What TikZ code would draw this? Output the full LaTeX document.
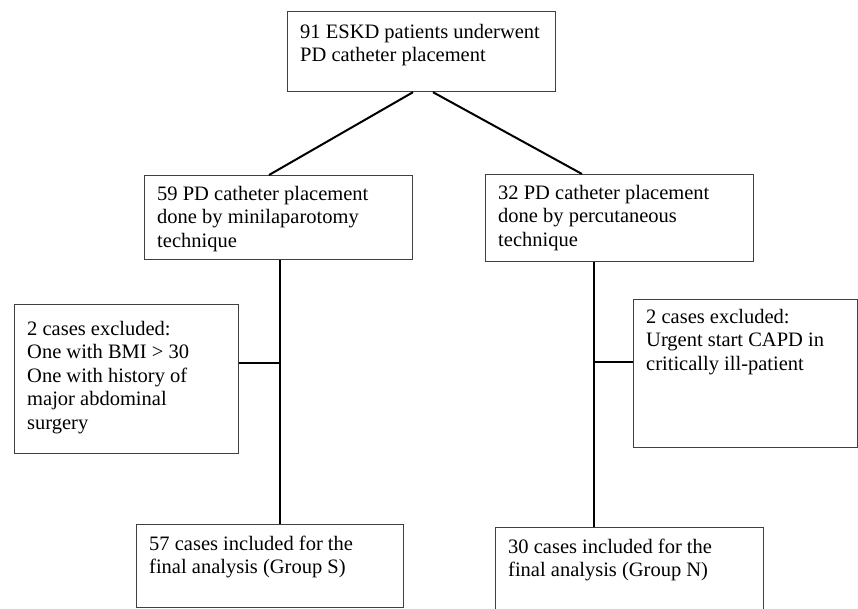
\documentclass[tikz,border=0pt]{standalone}
\usepackage{fontspec}
\setmainfont{Liberation Serif}
\usetikzlibrary{calc}
\begin{document}
\begin{tikzpicture}[x=1pt,y=-1pt,
  box/.style={draw=black!75, line width=1.2pt, inner sep=0pt, rectangle, anchor=north west},
  conn/.style={line width=2pt, draw=black},
  txt/.style={anchor=base west, inner sep=0pt, align=left, font=\fontsize{20.5}{23.6}\selectfont}]
\useasboundingbox (0,0) rectangle (858,608);
% boxes
\node[box, minimum width=268pt, minimum height=80pt] (top) at (287,11) {};
\node[box, minimum width=268pt, minimum height=84pt] (left) at (144,175) {};
\node[box, minimum width=268pt, minimum height=87pt] (right) at (485,174) {};
\node[box, minimum width=224pt, minimum height=149pt] (exl) at (14,304) {};
\node[box, minimum width=224pt, minimum height=148pt] (exr) at (633,299) {};
\node[box, minimum width=267pt, minimum height=83pt] (botl) at (136,524) {};
\node[box, minimum width=268pt, minimum height=95pt] (botr) at (495,527) {};
% texts (anchor = baseline of last line)
\node[txt] (ttop) at ($(top.north west)+(13,50.6)$) {91 ESKD patients underwent\\PD catheter placement};
\node[txt] (tleft) at ($(left.north west)+(13,72.2)$) {59 PD catheter placement\\done by minilaparotomy\\technique};
\node[txt] (tright) at ($(right.north west)+(13,72.2)$) {32 PD catheter placement\\done by percutaneous\\technique};
\node[txt] (texl) at ($(exl.north west)+(13,125.4)$) {2 cases excluded:\\One with BMI > 30\\One with history of\\major abdominal\\surgery};
\node[txt] (texr) at ($(exr.north west)+(13,71.2)$) {2 cases excluded:\\Urgent start CAPD in\\critically ill-patient};
\node[txt] (tbotl) at ($(botl.north west)+(13,49.6)$) {57 cases included for the\\final analysis (Group S)};
\node[txt] (tbotr) at ($(botr.north west)+(13,49.6)$) {30 cases included for the\\final analysis (Group N)};
% connectors
\draw[conn] ($(top.south west)+(126,0)$) -- ($(left.north west)+(125,0)$);
\draw[conn] ($(top.south west)+(146,0)$) -- ($(right.north west)+(97,0)$);
\draw[conn] ($(left.south west)+(136,0)$) -- ($(botl.north west)+(144,0)$);
\draw[conn] ($(exl.north east)+(0,59)$) -- ++(42,0);
\draw[conn] ($(right.south west)+(109,0)$) -- ($(botr.north west)+(99,0)$);
\draw[conn] ($(exr.north west)+(0,63)$) -- ++(-39,0);
\end{tikzpicture}
\end{document}
